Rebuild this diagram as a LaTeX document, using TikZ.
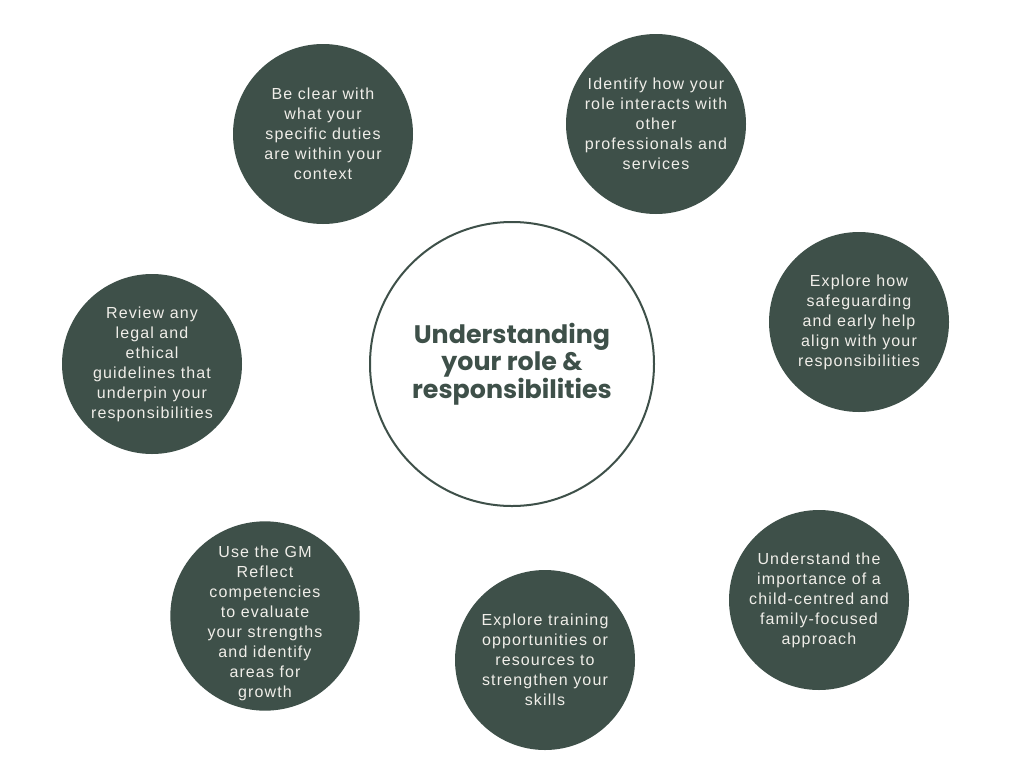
\documentclass[tikz,border=0pt]{standalone}
\usepackage{fontspec}
\newfontfamily\bodyfont[LetterSpace=7]{Liberation Sans}
\newfontfamily\headfont{Poppins}
\definecolor{pine}{HTML}{3E5049}
\definecolor{paper}{HTML}{F0EEE9}
\begin{document}
\begin{tikzpicture}[x=0.75pt,y=-0.75pt,
						every node/.style={align=center}]
						\tikzstyle{point}=[circle,fill=pine,text=paper,inner sep=0pt,minimum size=135pt,
						  font=\bodyfont\fontsize{12}{15}\selectfont];
						\tikzstyle{hub}=[circle,draw=pine,line width=1.5pt,fill=white,text=pine,inner sep=0pt,
						  minimum size=213pt,font=\headfont\bfseries\fontsize{19}{20.25}\selectfont];
						\useasboundingbox (0,0) rectangle (1024,768);
						\fill[white] (0,0) rectangle (1024,768);
						\node[hub](role) at (512,364) {Understanding\\your role \&\\responsibilities};
						\node[point](duties) at (323,134) {Be clear with\\what your\\specific duties\\are within your\\context};
						\node[point](interact) at (656,124) {Identify how your\\role interacts with\\other\\professionals and\\services};
						\node[point](safeguard) at (859,322) {Explore how\\safeguarding\\and early help\\align with your\\responsibilities};
						\node[point](childcentred) at (819,600) {Understand the\\importance of a\\child-centred and\\family-focused\\approach};
						\node[point](training) at (545,660) {Explore training\\opportunities or\\resources to\\strengthen your\\skills};
						\node[point,minimum size=142pt,inner sep=-20pt](reflect) at (265,616) {\rule{0pt}{19pt}Use the GM\\Reflect\\competencies\\to evaluate\\your strengths\\and identify\\areas for\\growth};
						\node[point](legal) at (152,364) {Review any\\legal and\\ethical\\guidelines that\\underpin your\\responsibilities};
					\end{tikzpicture}
\end{document}
